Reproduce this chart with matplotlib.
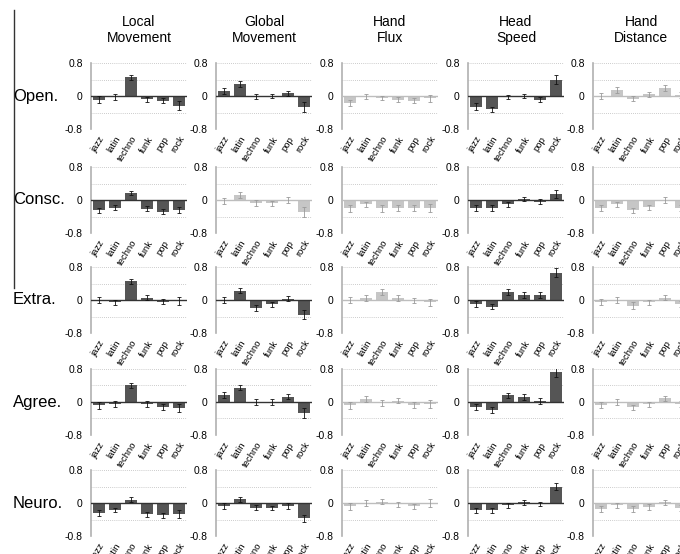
import numpy as np
import matplotlib.pyplot as plt
from matplotlib.lines import Line2D

plt.rcParams['font.family'] = ['Liberation Sans', 'DejaVu Sans']
plt.rcParams['axes.unicode_minus'] = False

genres = ['jazz', 'latin', 'techno', 'funk', 'pop', 'rock']
traits = ['Open.', 'Consc.', 'Extra.', 'Agree.', 'Neuro.']
measures = ['Local\nMovement', 'Global\nMovement', 'Hand\nFlux', 'Head\nSpeed', 'Hand\nDistance']

# correlation means, one row per trait
local_movement = [
    [-0.09, -0.02, 0.45, -0.08, -0.12, -0.24],
    [-0.25, -0.19, 0.16, -0.21, -0.28, -0.25],
    [0.00, -0.05, 0.45, 0.06, -0.04, -0.02],
    [-0.08, -0.04, 0.40, -0.04, -0.13, -0.14],
    [-0.24, -0.17, 0.08, -0.27, -0.30, -0.27],
]
global_movement = [
    [0.12, 0.29, -0.02, 0.00, 0.07, -0.26],
    [-0.02, 0.13, -0.08, -0.08, 0.00, -0.29],
    [0.00, 0.23, -0.19, -0.10, 0.03, -0.36],
    [0.17, 0.34, 0.00, 0.00, 0.13, -0.26],
    [-0.08, 0.09, -0.12, -0.13, -0.07, -0.37],
]
hand_flux = [
    [-0.17, -0.02, -0.05, -0.09, -0.11, -0.06],
    [-0.20, -0.10, -0.20, -0.20, -0.20, -0.20],
    [0.00, 0.05, 0.19, 0.05, -0.01, -0.06],
    [-0.08, 0.08, -0.03, 0.03, -0.08, -0.05],
    [-0.08, 0.00, 0.03, -0.03, -0.08, 0.00],
]
head_speed = [
    [-0.26, -0.32, -0.03, 0.00, -0.09, 0.40],
    [-0.20, -0.19, -0.10, 0.02, -0.04, 0.15],
    [-0.09, -0.16, 0.19, 0.13, 0.13, 0.66],
    [-0.13, -0.20, 0.16, 0.12, 0.02, 0.72],
    [-0.18, -0.18, -0.06, 0.02, -0.03, 0.40],
]
hand_distance = [
    [0.00, 0.15, -0.07, 0.04, 0.20, 0.03],
    [-0.20, -0.10, -0.25, -0.18, 0.00, -0.20],
    [-0.04, 0.00, -0.14, -0.05, 0.06, -0.10],
    [-0.08, 0.00, -0.13, -0.06, 0.09, -0.05],
    [-0.15, -0.05, -0.14, -0.10, 0.02, -0.12],
]

# standard errors, same layout
local_err = [
    [0.09, 0.07, 0.06, 0.06, 0.06, 0.11],
    [0.06, 0.06, 0.05, 0.06, 0.05, 0.07],
    [0.08, 0.06, 0.07, 0.07, 0.06, 0.10],
    [0.08, 0.07, 0.06, 0.07, 0.07, 0.10],
    [0.07, 0.06, 0.06, 0.06, 0.06, 0.09],
]
global_err = [
    [0.08, 0.07, 0.06, 0.06, 0.06, 0.12],
    [0.08, 0.07, 0.07, 0.06, 0.08, 0.12],
    [0.08, 0.06, 0.07, 0.06, 0.06, 0.11],
    [0.07, 0.06, 0.08, 0.08, 0.06, 0.12],
    [0.07, 0.06, 0.06, 0.05, 0.07, 0.09],
]
flux_err = [
    [0.07, 0.06, 0.05, 0.06, 0.06, 0.08],
    [0.08, 0.06, 0.08, 0.07, 0.07, 0.10],
    [0.08, 0.07, 0.07, 0.07, 0.06, 0.09],
    [0.08, 0.07, 0.07, 0.06, 0.07, 0.09],
    [0.08, 0.08, 0.06, 0.06, 0.06, 0.10],
]
head_err = [
    [0.08, 0.06, 0.05, 0.06, 0.06, 0.10],
    [0.07, 0.07, 0.06, 0.05, 0.06, 0.10],
    [0.07, 0.07, 0.07, 0.07, 0.07, 0.11],
    [0.07, 0.07, 0.07, 0.07, 0.08, 0.11],
    [0.06, 0.06, 0.05, 0.06, 0.05, 0.09],
]
dist_err = [
    [0.08, 0.07, 0.06, 0.06, 0.07, 0.07],
    [0.07, 0.06, 0.06, 0.06, 0.08, 0.07],
    [0.07, 0.08, 0.08, 0.06, 0.06, 0.07],
    [0.07, 0.08, 0.06, 0.06, 0.06, 0.07],
    [0.07, 0.06, 0.07, 0.07, 0.06, 0.07],
]

# 1 = significant model (dark bars), 0 = not significant (light bars)
local_sig = [1, 1, 1, 1, 1]
global_sig = [1, 0, 1, 1, 1]
flux_sig = [0, 0, 0, 0, 0]
head_sig = [1, 1, 1, 1, 1]
dist_sig = [0, 0, 0, 0, 0]

all_means = [local_movement, global_movement, hand_flux, head_speed, hand_distance]
all_errs = [local_err, global_err, flux_err, head_err, dist_err]
all_sig = [local_sig, global_sig, flux_sig, head_sig, dist_sig]

W, H = 680, 554
fig = plt.figure(figsize=(W / 100, H / 100), dpi=100)

col_x = [91, 216, 342, 468, 593]
row_y = [63, 167, 267, 369, 470]
aw, ah = 96, 66
x = np.arange(len(genres))

for j in range(len(measures)):
    for i in range(len(traits)):
        ax = fig.add_axes([col_x[j] / W, 1 - (row_y[i] + ah) / H, aw / W, ah / H])
        sig = all_sig[j][i]
        bar_c = '#555555' if sig else '#c6c6c6'
        err_c = '#111111' if sig else '#9a9a9a'
        zero_c = '#333333' if sig else '#bdbdbd'
        for yv in [0.8, 0.4, -0.4, -0.8]:
            ax.axhline(yv, color='#bbbbbb', lw=0.6, ls=(0, (1, 1.5)), zorder=0)
        ax.bar(x, all_means[j][i], width=0.8, color=bar_c, zorder=2)
        ax.axhline(0, color=zero_c, lw=1.0, zorder=3)
        ax.errorbar(x, all_means[j][i], yerr=all_errs[j][i], fmt='none',
                    ecolor=err_c, elinewidth=0.6, capsize=1.2, capthick=0.6, zorder=4)
        ax.set_xlim(-0.5, 5.5)
        ax.set_ylim(-0.8, 0.8)
        ax.set_yticks([-0.8, 0, 0.8])
        ax.set_yticklabels(['-0.8', '0', '0.8'], fontsize=7.5)
        ax.set_xticks(x)
        ax.set_xticklabels(genres, rotation=58, ha='right', rotation_mode='anchor', fontsize=6.8)
        ax.tick_params(axis='y', length=0, pad=6)
        ax.tick_params(axis='x', length=0, pad=4)
        for s in ['top', 'right', 'bottom']:
            ax.spines[s].set_visible(False)
        ax.spines['left'].set_color('#b0b0b0')
        ax.spines['left'].set_linewidth(1.2)
        ax.patch.set_alpha(0)

for j, name in enumerate(measures):
    fig.text((col_x[j] + aw / 2) / W, 1 - 30 / H, name, ha='center', va='center',
             fontsize=10, linespacing=1.15)

for i, name in enumerate(traits):
    fig.text(13 / W, 1 - (row_y[i] + ah / 2) / H, name, ha='left', va='center', fontsize=12)

fig.add_artist(Line2D([13.5 / W, 13.5 / W], [1 - 10 / H, 1 - 288 / H], color='#333333', lw=1.0))

fig.savefig('out.png', dpi=100)
